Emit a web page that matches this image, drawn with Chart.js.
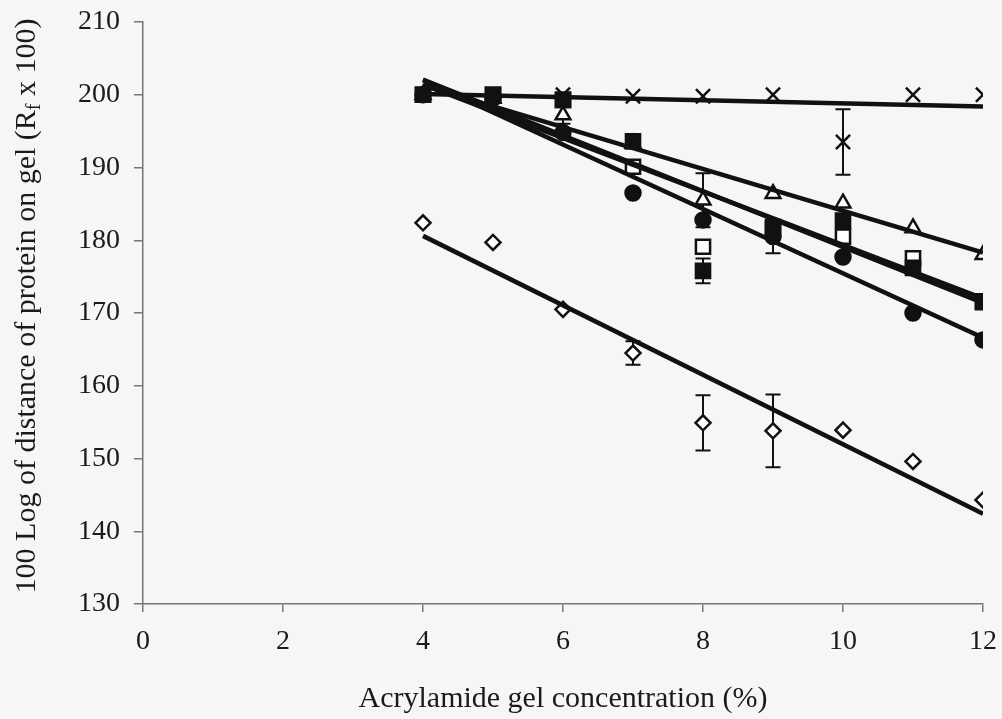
<!DOCTYPE html>
<html>
<head>
<meta charset="utf-8"/>
<script src="https://cdn.jsdelivr.net/npm/chart.js@4.4.0/dist/chart.umd.min.js"></script>
<style>
  body { margin: 0; background: #f6f6f6; }
  #wrap { width: 1002px; height: 719px; }
</style>
</head>
<body>
<div id="wrap"><canvas id="chart" width="1002" height="719"></canvas></div>
<script>
// acrylamide concentrations (%) where each protein was run
var conc = [4, 5, 6, 7, 8, 9, 10, 11, 12];

// 100 log Rf readings, one list per protein
var crossVals   = [200, 200, 200, 199.8, 199.8, 200, 193.5, 200, 200];
var triVals     = [200, 199.5, 197.2, 193.3, 185.5, 186.4, 185.1, 181.7, 178.0];
var sqFillVals  = [200, 200, 199.3, 193.6, 175.8, 181.8, 182.7, 176.2, 171.6];
var sqOpenVals  = [200, 200, 199.3, 190.1, 179.1, 181.5, 180.5, 177.5, 171.5];
var circleVals  = [200, 199.5, 194.8, 186.5, 182.8, 180.5, 177.7, 170.0, 166.3];
var diamondVals = [182.4, 179.7, 170.5, 164.5, 154.9, 153.8, 153.9, 149.6, 144.3];

// error bar half-widths (0 = no bar drawn)
var crossErr   = [0, 0, 0, 0, 0, 0, 4.5, 0, 0];
var triErr     = [0, 0, 1.2, 0, 3.7, 0, 0, 0, 0];
var sqFillErr  = [0, 0, 0, 0, 1.7, 0, 0, 0, 0];
var sqOpenErr  = [0, 0, 0, 0, 0, 0, 0, 0, 0];
var circleErr  = [0, 0, 0, 0, 0, 2.3, 0, 0, 0];
var diamondErr = [0, 0, 0, 1.6, 3.8, 5.0, 0, 0, 0];

// linear trend lines, value at x=4 and x=12
var trendX        = [4, 12];
var crossTrend    = [200.1, 198.4];
var triTrend      = [201.3, 178.3];
var sqFillTrend   = [202.1, 171.4];
var sqOpenTrend   = [201.4, 172.0];
var circleTrend   = [202.0, 166.6];
var diamondTrend  = [180.6, 142.4];

var yTicks = [130, 140, 150, 160, 170, 180, 190, 200, 210];
var xTicks = [0, 2, 4, 6, 8, 10, 12];

var INK = '#111';
var TEXT = '#1a1a1a';
var FONT = '"Liberation Serif", "Times New Roman", serif';

function pts(vals, errs) {
  return conc.map(function(c, i) { return { x: c, y: vals[i], err: errs[i] }; });
}
function trend(t) {
  return trendX.map(function(x, i) { return { x: x, y: t[i] }; });
}
function markers(vals, errs, style, radius, filled) {
  return {
    type: 'scatter',
    data: pts(vals, errs),
    pointStyle: style,
    pointRadius: radius,
    pointHoverRadius: radius,
    pointBackgroundColor: filled ? INK : '#ffffff',
    pointBorderColor: INK,
    pointBorderWidth: 2.5,
    showLine: false,
    order: 2
  };
}
function trendLine(t) {
  return {
    type: 'line',
    data: trend(t),
    borderColor: INK,
    borderWidth: 4.5,
    pointRadius: 0,
    fill: false,
    order: 1
  };
}

// vertical error bars with caps, drawn under the markers
var errorBars = {
  id: 'errorBars',
  beforeDatasetsDraw: function(chart) {
    var ctx = chart.ctx, xs = chart.scales.x, ys = chart.scales.y;
    ctx.save();
    ctx.strokeStyle = INK;
    ctx.lineWidth = 2;
    chart.data.datasets.forEach(function(ds) {
      if (ds.type !== 'scatter') return;
      ds.data.forEach(function(p) {
        if (!p.err) return;
        var px = xs.getPixelForValue(p.x);
        var top = ys.getPixelForValue(p.y + p.err);
        var bot = ys.getPixelForValue(p.y - p.err);
        ctx.beginPath();
        ctx.moveTo(px, top); ctx.lineTo(px, bot);
        ctx.moveTo(px - 7.5, top); ctx.lineTo(px + 7.5, top);
        ctx.moveTo(px - 7.5, bot); ctx.lineTo(px + 7.5, bot);
        ctx.stroke();
      });
    });
    ctx.restore();
  }
};

// page background plus the rotated y title with its subscript f
var frame = {
  id: 'frame',
  beforeDraw: function(chart) {
    var ctx = chart.ctx;
    ctx.save();
    ctx.fillStyle = '#f6f6f6';
    ctx.fillRect(0, 0, chart.width, chart.height);
    ctx.restore();
  },
  afterDraw: function(chart) {
    var ctx = chart.ctx, area = chart.chartArea;
    var a = '100 Log of distance of protein on gel (R', sub = 'f', b = ' x 100)';
    ctx.save();
    ctx.fillStyle = TEXT;
    ctx.textBaseline = 'middle';
    ctx.font = '30px ' + FONT;
    var wa = ctx.measureText(a).width, wb = ctx.measureText(b).width;
    ctx.font = '20px ' + FONT;
    var ws = ctx.measureText(sub).width;
    var total = wa + ws + wb;
    ctx.translate(27, (area.top + area.bottom) / 2 - 7);
    ctx.rotate(-Math.PI / 2);
    var x0 = -total / 2;
    ctx.font = '30px ' + FONT;
    ctx.fillText(a, x0, 0);
    ctx.font = '20px ' + FONT;
    ctx.fillText(sub, x0 + wa, 8);
    ctx.font = '30px ' + FONT;
    ctx.fillText(b, x0 + wa + ws, 0);
    ctx.restore();
  }
};

new Chart(document.getElementById('chart'), {
  data: {
    datasets: [
      trendLine(diamondTrend),
      trendLine(circleTrend),
      trendLine(sqOpenTrend),
      trendLine(sqFillTrend),
      trendLine(triTrend),
      trendLine(crossTrend),
      markers(diamondVals, diamondErr, 'rectRot', 7.5, false),
      markers(circleVals, circleErr, 'circle', 7.5, true),
      markers(sqFillVals, sqFillErr, 'rect', 10, true),
      markers(sqOpenVals, sqOpenErr, 'rect', 10, false),
      markers(triVals, triErr, 'triangle', 8.5, false),
      markers(crossVals, crossErr, 'crossRot', 10, false)
    ]
  },
  options: {
    responsive: false,
    animation: false,
    layout: { padding: { top: 22, right: 19, bottom: 0, left: 0 } },
    plugins: { legend: { display: false }, tooltip: { enabled: false } },
    scales: {
      x: {
        type: 'linear',
        min: 0, max: 12,
        afterBuildTicks: function(s) { s.ticks = xTicks.map(function(v) { return { value: v }; }); },
        afterFit: function(s) { s.height = 115; s.paddingLeft = 0; s.paddingRight = 0; },
        border: { color: '#777', width: 1.5 },
        grid: { drawOnChartArea: false, color: '#777', tickLength: 8, lineWidth: 1.5 },
        ticks: { color: TEXT, padding: 13, font: { family: FONT, size: 28 } },
        title: {
          display: true,
          text: 'Acrylamide gel concentration (%)',
          color: TEXT,
          padding: { top: 0, bottom: 2 },
          font: { family: FONT, size: 30 }
        }
      },
      y: {
        type: 'linear',
        min: 130, max: 210,
        afterBuildTicks: function(s) { s.ticks = yTicks.map(function(v) { return { value: v }; }); },
        afterFit: function(s) { s.width = 143; s.paddingTop = 0; s.paddingBottom = 0; },
        border: { color: '#777', width: 1.5 },
        grid: { drawOnChartArea: false, color: '#777', tickLength: 9, lineWidth: 1.5 },
        ticks: { color: TEXT, padding: 14, font: { family: FONT, size: 28 } }
      }
    }
  },
  plugins: [errorBars, frame]
});
</script>
</body>
</html>
